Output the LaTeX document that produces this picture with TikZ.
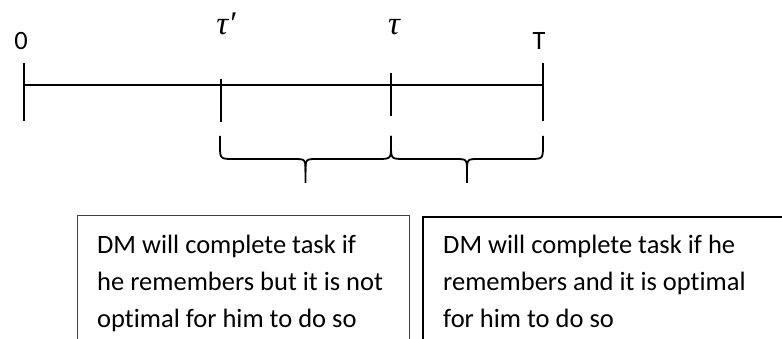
\documentclass[tikz,border=0pt]{standalone}
\usepackage{fontspec}
\setmainfont[Ligatures=NoCommon]{Carlito}
\newfontfamily\grk{Liberation Serif}
\usepackage{tikz}
\usetikzlibrary{calc}
\definecolor{boxgray}{HTML}{404040}

\begin{document}
\begin{tikzpicture}[x=1pt,y=-1pt,
  lbl/.style={font=\fontsize{26.5}{37}\selectfont,inner sep=0pt,anchor=base},
  mth/.style={font=\fontsize{33}{37}\selectfont\grk\itshape,inner sep=0pt,anchor=base},
  txt/.style={font=\fontsize{26.5}{37}\selectfont,inner sep=0pt,anchor=north west,align=left}]
  \useasboundingbox (0,0) rectangle (782,339);
  % time line with its ticks
  \coordinate (start) at (24,85);
  \coordinate (end) at (543,85);
  \draw[line width=2.5pt] (start) -- (end);
  \foreach \n/\x/\a/\b in {z/24/63/121, p/221/79/122, q/391/73/116, e/543/63/121}
    \draw[line width=2pt] (\x,\a) coordinate (\n top) -- (\x,\b) coordinate (\n bot);
  \node[lbl] (zero) at (21,50) {0};
  \node[mth] (taup) at (226,35) {τ′};
  \node[mth] (tau) at (394,35) {τ};
  \node[lbl] (endT) at (539,50) {T};
  % braces under the two intervals
  \foreach \a/\b in {220/391, 391/543}{
    \pgfmathsetmacro\m{(\a+\b)/2}
    \draw[line width=1.8pt] (\a,136) -- (\a,145) .. controls (\a,159) .. (\a+14,159) -- (\m-12,159) .. controls (\m,159) .. (\m,172) -- (\m,183);
    \draw[line width=1.8pt] (\m,172) .. controls (\m,159) .. (\m+12,159) -- (\b-14,159) .. controls (\b,159) .. (\b,145) -- (\b,136);
  }
  % the two text boxes, cut off at the bottom
  \draw[boxgray,line width=1pt] (77,345) -- (77,216) -- (409,216) -- (409,345);
  \draw[line width=2pt] (423,345) -- (423,217) -- (790,217);
  \node[txt] (late) at (97,235) {DM will complete task if\\he remembers but it is not\\optimal for him to do so};
  \node[txt] (early) at (443,235) {DM will complete task if he\\remembers and it is optimal\\for him to do so};
\end{tikzpicture}
\end{document}
